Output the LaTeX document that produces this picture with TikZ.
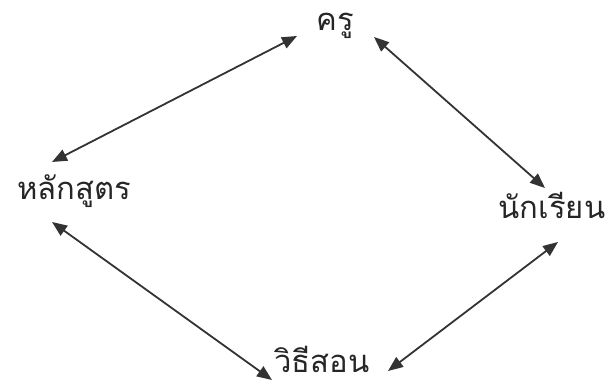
\documentclass[tikz,border=0pt]{standalone}
\usepackage{fontspec}
\newfontfamily\thaifont[Script=Thai]{Loma}
\usetikzlibrary{arrows.meta}
\begin{document}
\begin{tikzpicture}[x=1pt,y=-1pt,
  lbl/.style={font=\thaifont\fontsize{31}{36}\selectfont, inner sep=0pt, anchor=base, text=black!85},
  conn/.style={line width=1.8pt, draw=black!80, {Triangle[length=15pt,width=12pt]}-{Triangle[length=15pt,width=12pt]}}]
\useasboundingbox (0,0) rectangle (605,387);
\node[lbl] (kru) at (335,31) {ครู};
\node[lbl] (lak) at (74,200) {หลักสูตร};
\node[lbl] (nak) at (552,219) {นักเรียน};
\node[lbl, text depth=0pt] (wit) at (322,372) {วิธีสอน};
\coordinate (a1) at (297,36);
\coordinate (a2) at (52,162);
\coordinate (b1) at (374,37);
\coordinate (b2) at (545,188);
\coordinate (c1) at (52,222);
\coordinate (c2) at (272,380);
\coordinate (d1) at (558,242);
\coordinate (d2) at (388,371);
\draw[conn] (a1) -- (a2);
\draw[conn] (b1) -- (b2);
\draw[conn] (c1) -- (c2);
\draw[conn] (d1) -- (d2);
\end{tikzpicture}
\end{document}
